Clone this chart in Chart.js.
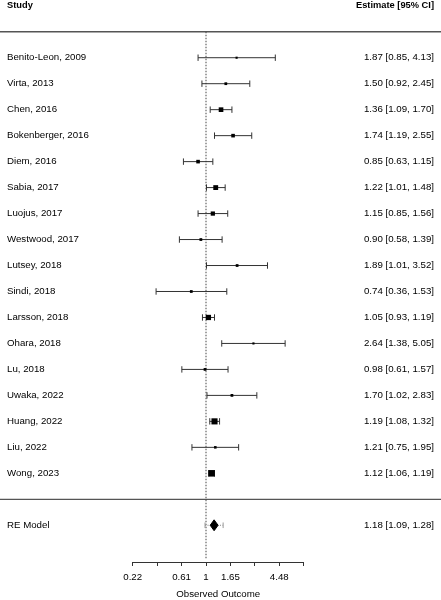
<!DOCTYPE html>
<html>
<head>
<meta charset="utf-8">
<title>Forest plot</title>
<script src="https://cdn.jsdelivr.net/npm/chart.js@4.4.1/dist/chart.umd.min.js"></script>
<style>
  html, body { margin: 0; padding: 0; background: #fff; }
  #wrap { width: 441px; height: 600px; position: relative; }
</style>
</head>
<body>
<div id="wrap"><canvas id="forest"></canvas></div>
<script>
// study data
const studies = ['Benito-Leon, 2009', 'Virta, 2013', 'Chen, 2016', 'Bokenberger, 2016', 'Diem, 2016',
  'Sabia, 2017', 'Luojus, 2017', 'Westwood, 2017', 'Lutsey, 2018', 'Sindi, 2018', 'Larsson, 2018',
  'Ohara, 2018', 'Lu, 2018', 'Uwaka, 2022', 'Huang, 2022', 'Liu, 2022', 'Wong, 2023'];
const estimates = [1.87, 1.50, 1.36, 1.74, 0.85, 1.22, 1.15, 0.90, 1.89, 0.74, 1.05, 2.64, 0.98, 1.70, 1.19, 1.21, 1.12];
const lowerCI = [0.85, 0.92, 1.09, 1.19, 0.63, 1.01, 0.85, 0.58, 1.01, 0.36, 0.93, 1.38, 0.61, 1.02, 1.08, 0.75, 1.06];
const upperCI = [4.13, 2.45, 1.70, 2.55, 1.15, 1.48, 1.56, 1.39, 3.52, 1.53, 1.19, 5.05, 1.57, 2.83, 1.32, 1.95, 1.19];
// relative weights (%), only used for the square size
const weights = [1.5, 3.0, 7.5, 5.0, 5.0, 8.0, 6.5, 3.0, 3.0, 3.0, 9.0, 1.5, 3.0, 3.0, 11.0, 2.5, 12.0];

// pooled random-effects model: estimate, lower, upper
const reModel = [1.18, 1.09, 1.28];
const predInterval = [0.98, 1.42];

// x axis ticks (log scale) and their labels
const tickValues = [0.2231, 0.3679, 0.6065, 1, 1.6487, 2.7183, 4.4817, 7.3891];
const tickLabels = ['0.22', '', '0.61', '1', '1.65', '', '4.48', ''];

document.addEventListener('DOMContentLoaded', function() {
    const fam = "'Liberation Sans', Arial, Helvetica, sans-serif";
    Chart.defaults.font.family = fam;
    Chart.defaults.font.size = 9.7;
    Chart.defaults.color = '#000';

    const n = studies.length;
    const rowOf = i => n - i;
    const xMin = 0.01475, xMax = 122.7;

    const ciData = [];
    const capData = [];
    studies.forEach((s, i) => {
        ciData.push({x: lowerCI[i], y: rowOf(i)}, {x: upperCI[i], y: rowOf(i)}, {x: null, y: null});
        capData.push({x: lowerCI[i], y: rowOf(i)}, {x: upperCI[i], y: rowOf(i)});
    });
    const markerData = estimates.map((e, i) => ({x: e, y: rowOf(i)}));
    const markerRadius = weights.map(w => (1.5 + 0.42 * w) / Math.SQRT2);

    const dh = 0.21;
    const diamond = [
        {x: reModel[1], y: -1}, {x: reModel[0], y: -1 + dh},
        {x: reModel[2], y: -1}, {x: reModel[0], y: -1 - dh}, {x: reModel[1], y: -1}
    ];

    const fmt = (e, lo, hi) => e.toFixed(2) + ' [' + lo.toFixed(2) + ', ' + hi.toFixed(2) + ']';

    const textPlugin = {
        id: 'forestText',
        afterDatasetsDraw(chart) {
            const {ctx, scales: {x, y}, chartArea} = chart;
            ctx.save();
            ctx.fillStyle = '#000';
            ctx.textBaseline = 'middle';

            ctx.font = 'bold 9.3px ' + fam;
            ctx.textAlign = 'left';
            ctx.fillText('Study', 7, y.getPixelForValue(19));
            ctx.textAlign = 'right';
            ctx.fillText('Estimate [95% CI]', 434, y.getPixelForValue(19));

            ctx.font = '9.7px ' + fam;
            studies.forEach((s, i) => {
                const py = y.getPixelForValue(rowOf(i));
                ctx.textAlign = 'left';
                ctx.fillText(s, 7, py);
                ctx.textAlign = 'right';
                ctx.fillText(fmt(estimates[i], lowerCI[i], upperCI[i]), 434, py);
            });
            const pr = y.getPixelForValue(-1);
            ctx.textAlign = 'left';
            ctx.fillText('RE Model', 7, pr);
            ctx.textAlign = 'right';
            ctx.fillText(fmt(reModel[0], reModel[1], reModel[2]), 434, pr);

            // axis line only across the tick range
            ctx.strokeStyle = '#333';
            ctx.lineWidth = 1;
            ctx.beginPath();
            const ay = Math.round(chartArea.bottom) + 0.5;
            ctx.moveTo(x.getPixelForValue(tickValues[0]), ay);
            ctx.lineTo(x.getPixelForValue(tickValues[tickValues.length - 1]), ay);
            ctx.stroke();

            ctx.textAlign = 'center';
            ctx.fillText('Observed Outcome', x.getPixelForValue(1.284), 594);
            ctx.restore();
        }
    };

    new Chart(document.getElementById('forest'), {
        type: 'scatter',
        data: {
            datasets: [
                {   // squares
                    data: markerData,
                    pointStyle: 'rect',
                    pointRadius: markerRadius,
                    backgroundColor: '#000',
                    borderWidth: 0
                },
                {   // pooled diamond
                    data: diamond,
                    showLine: true,
                    fill: 'shape',
                    backgroundColor: '#000',
                    borderColor: '#000',
                    borderWidth: 1,
                    pointRadius: 0
                },
                {   // CI caps
                    data: capData,
                    pointStyle: 'line',
                    rotation: 90,
                    pointRadius: 3.2,
                    borderColor: '#333',
                    borderWidth: 1
                },
                {   // CI lines
                    data: ciData,
                    showLine: true,
                    spanGaps: false,
                    borderColor: '#333',
                    borderWidth: 1,
                    pointRadius: 0
                },
                {   // prediction interval
                    data: [{x: predInterval[0], y: -1}, {x: predInterval[1], y: -1}],
                    showLine: true,
                    borderDash: [1, 1.5],
                    borderColor: '#888',
                    borderWidth: 1,
                    pointStyle: 'line',
                    rotation: 90,
                    pointRadius: 2.8,
                    pointBorderColor: '#999'
                },
                {   // reference line at 1
                    data: [{x: 1, y: 18}, {x: 1, y: -2.27}],
                    showLine: true,
                    borderDash: [1.5, 1.5],
                    borderColor: '#444',
                    borderWidth: 1,
                    pointRadius: 0
                },
                {   // separators
                    data: [{x: xMin, y: 18}, {x: xMax, y: 18}, {x: null, y: null}, {x: xMin, y: 0}, {x: xMax, y: 0}],
                    showLine: true,
                    spanGaps: false,
                    borderColor: '#555',
                    borderWidth: 1.3,
                    pointRadius: 0
                }
            ]
        },
        options: {
            responsive: true,
            maintainAspectRatio: false,
            animation: false,
            layout: { padding: 0, autoPadding: false },
            plugins: {
                legend: { display: false },
                tooltip: { enabled: false }
            },
            scales: {
                x: {
                    type: 'logarithmic',
                    min: xMin,
                    max: xMax,
                    afterBuildTicks: s => { s.ticks = tickValues.map(v => ({value: v})); },
                    afterFit: s => { s.height = 38; },
                    ticks: {
                        autoSkip: false,
                        maxRotation: 0,
                        padding: 6,
                        color: '#000',
                        font: { size: 9.7 },
                        callback: (v, i) => tickLabels[i]
                    },
                    grid: { drawOnChartArea: false, drawTicks: true, tickLength: 4, color: '#333' },
                    border: { display: false }
                },
                y: {
                    type: 'linear',
                    min: -2.414,
                    max: 19.222,
                    display: false
                }
            }
        },
        plugins: [textPlugin]
    });
});
</script>
</body>
</html>
